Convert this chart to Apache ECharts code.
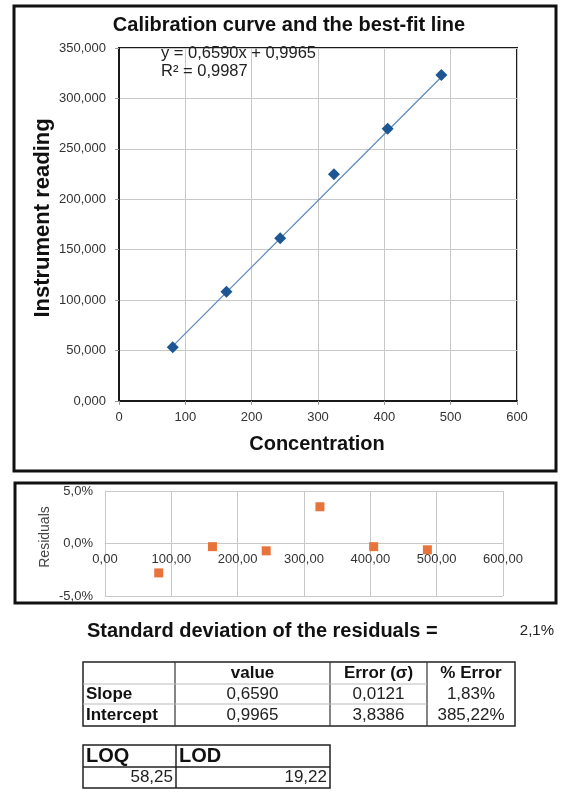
<!DOCTYPE html>
<html>
<head>
<meta charset="utf-8">
<script src="https://cdn.jsdelivr.net/npm/echarts@6/dist/echarts.min.js"></script>
<style>
html,body{margin:0;padding:0;background:#fff;}
#chart{width:561px;height:794px;}
</style>
</head>
<body>
<div id="chart"></div>
<script>
// ---- data ----
const concentration = [81, 162, 243, 324, 405, 486];
const reading = [53.2, 108.4, 161.3, 224.8, 270.0, 323.2];
const residualPct = [-2.8, -0.3, -0.7, 3.5, -0.3, -0.6];
const slope = 0.6590;
const intercept = 0.9965;
const rSquared = 0.9987;
const stdResidualText = '2,1%';
const statHeader = ['', 'value', 'Error (σ)', '% Error'];
const statRows = [
  ['Slope', '0,6590', '0,0121', '1,83%'],
  ['Intercept', '0,9965', '3,8386', '385,22%']
];
const limitHeader = ['LOQ', 'LOD'];
const limitValues = ['58,25', '19,22'];

const FONT = '"Liberation Sans", Arial, sans-serif';
const comma = (v, d) => v.toFixed(d).replace('.', ',');

const scatterData = concentration.map((x, i) => [x, reading[i]]);
const residualData = concentration.map((x, i) => [x, residualPct[i]]);
const xMin = Math.min(...concentration), xMax = Math.max(...concentration);
const trendData = [[xMin, slope * xMin + intercept], [xMax, slope * xMax + intercept]];

function txt(text, x, y, size, opts) {
  opts = opts || {};
  return {
    type: 'text', x: x, y: y, rotation: opts.rotation || 0, silent: true, z: 100,
    style: {
      text: text,
      font: (opts.bold ? 'bold ' : '') + size + 'px ' + FONT,
      fill: opts.color || '#111',
      textAlign: opts.align || 'left', align: opts.align || 'left',
      textVerticalAlign: 'middle', verticalAlign: 'middle'
    }
  };
}
function line(x1, y1, x2, y2, color, w) {
  return { type: 'line', silent: true, z: 90, shape: { x1, y1, x2, y2 }, style: { stroke: color, lineWidth: w } };
}
function rect(x, y, w, h, color, lw) {
  return { type: 'rect', silent: true, z: 90, shape: { x, y, width: w, height: h }, style: { fill: 'none', stroke: color, lineWidth: lw } };
}

const graphics = [];
// frames
graphics.push(rect(14, 6, 542, 465, '#111', 3));
graphics.push(rect(15, 483, 541, 120, '#111', 3));
// titles
graphics.push(txt('Calibration curve and the best-fit line', 289, 25, 20, { bold: true, align: 'center' }));
graphics.push(txt('Instrument reading', 43, 218, 22, { bold: true, align: 'center', rotation: Math.PI / 2 }));
graphics.push(txt('Concentration', 317, 444, 20, { bold: true, align: 'center' }));
graphics.push(txt('Residuals', 45, 537, 14, { align: 'center', rotation: Math.PI / 2, color: '#444' }));
// equation
graphics.push(txt('y = ' + comma(slope, 4) + 'x + ' + comma(intercept, 4), 161, 53, 16.5, { color: '#222' }));
graphics.push(txt('R² = ' + comma(rSquared, 4), 161, 71, 16.5, { color: '#222' }));
// std dev
graphics.push(txt('Standard deviation of the residuals =', 87, 631, 20, { bold: true }));
graphics.push(txt(stdResidualText, 554, 631, 15, { align: 'right', color: '#222' }));

// table 1
const t1 = { cols: [83, 175, 330, 427, 515], rows: [662, 684, 704, 726] };
graphics.push(rect(t1.cols[0], t1.rows[0], t1.cols[4] - t1.cols[0], t1.rows[3] - t1.rows[0], '#222', 1.5));
for (let c = 1; c < 4; c++) graphics.push(line(t1.cols[c], t1.rows[0], t1.cols[c], t1.rows[3], '#333', 1.2));
graphics.push(line(t1.cols[0], t1.rows[1], t1.cols[3], t1.rows[1], '#bbb', 1));
graphics.push(line(t1.cols[0], t1.rows[2], t1.cols[3], t1.rows[2], '#bbb', 1));
for (let c = 1; c < 4; c++) {
  const cx = (t1.cols[c] + t1.cols[c + 1]) / 2;
  graphics.push(txt(statHeader[c], cx, (t1.rows[0] + t1.rows[1]) / 2, 17, { bold: true, align: 'center' }));
}
statRows.forEach((row, r) => {
  const cy = (t1.rows[r + 1] + t1.rows[r + 2]) / 2;
  graphics.push(txt(row[0], t1.cols[0] + 3, cy, 17, { bold: true }));
  for (let c = 1; c < 4; c++) {
    const cx = (t1.cols[c] + t1.cols[c + 1]) / 2;
    graphics.push(txt(row[c], cx, cy, 17, { align: 'center', color: '#222' }));
  }
});

// table 2
const t2 = { cols: [83, 176, 330], rows: [745, 767, 788] };
graphics.push(rect(t2.cols[0], t2.rows[0], t2.cols[2] - t2.cols[0], t2.rows[2] - t2.rows[0], '#222', 1.5));
graphics.push(line(t2.cols[1], t2.rows[0], t2.cols[1], t2.rows[2], '#222', 1.5));
graphics.push(line(t2.cols[0], t2.rows[1], t2.cols[2], t2.rows[1], '#222', 1.5));
limitHeader.forEach((h, c) => {
  graphics.push(txt(h, t2.cols[c] + 3, (t2.rows[0] + t2.rows[1]) / 2, 20, { bold: true }));
  graphics.push(txt(limitValues[c], t2.cols[c + 1] - 3, (t2.rows[1] + t2.rows[2]) / 2, 17, { align: 'right', color: '#222' }));
});

const chart = echarts.init(document.getElementById('chart'), null, { renderer: 'canvas' });
const tickLabel = { color: '#333', fontSize: 13, fontFamily: FONT };
const gridLine = { show: true, lineStyle: { color: '#c8c8c8', width: 1 } };
// residual grid geometry: zero line sits halfway between -5% and 5%
const resTop = 491, resBottom = 198, resHeight = 794 - resTop - resBottom;
chart.setOption({
  backgroundColor: '#fff',
  animation: false,
  grid: [
    { left: 119, right: 44, top: 48, bottom: 393, show: true, borderColor: '#1a1a1a', borderWidth: 2, backgroundColor: 'transparent' },
    { left: 105, right: 58, top: resTop, bottom: resBottom, show: false }
  ],
  xAxis: [
    { gridIndex: 0, type: 'value', min: 0, max: 600, interval: 100,
      axisLine: { show: true, lineStyle: { color: '#1a1a1a', width: 2 } },
      axisTick: { show: true, length: 4, lineStyle: { color: '#999' } },
      axisLabel: Object.assign({ margin: 10, formatter: v => String(v) }, tickLabel),
      splitLine: gridLine },
    { gridIndex: 1, type: 'value', min: 0, max: 600, interval: 100, position: 'bottom',
      offset: -resHeight / 2,
      axisLine: { show: true, onZero: false, lineStyle: { color: '#c8c8c8', width: 1 } },
      axisTick: { show: false },
      axisLabel: Object.assign({ margin: 9, formatter: v => comma(v, 2) }, tickLabel),
      splitLine: gridLine }
  ],
  yAxis: [
    { gridIndex: 0, type: 'value', min: 0, max: 350, interval: 50,
      axisLine: { show: true, lineStyle: { color: '#1a1a1a', width: 2 } },
      axisTick: { show: true, length: 4, lineStyle: { color: '#999' } },
      axisLabel: Object.assign({ margin: 13, formatter: v => comma(v, 3) }, tickLabel),
      splitLine: gridLine },
    { gridIndex: 1, type: 'value', min: -5, max: 5, interval: 5,
      axisLine: { show: true, onZero: false, lineStyle: { color: '#c8c8c8', width: 1 } },
      axisTick: { show: false },
      axisLabel: Object.assign({ margin: 12, formatter: v => comma(v, 1) + '%' }, tickLabel),
      splitLine: gridLine }
  ],
  series: [
    { type: 'line', xAxisIndex: 0, yAxisIndex: 0, data: trendData, symbol: 'none',
      lineStyle: { color: '#5a87b8', width: 1.2 }, z: 2, silent: true },
    { type: 'scatter', xAxisIndex: 0, yAxisIndex: 0, data: scatterData, symbol: 'diamond', symbolSize: 12,
      itemStyle: { color: '#1d5793', opacity: 1 }, z: 3 },
    { type: 'scatter', xAxisIndex: 1, yAxisIndex: 1, data: residualData, symbol: 'rect', symbolSize: 9,
      itemStyle: { color: '#e8743b', opacity: 1 }, z: 3 }
  ],
  graphic: graphics
});
</script>
</body>
</html>
